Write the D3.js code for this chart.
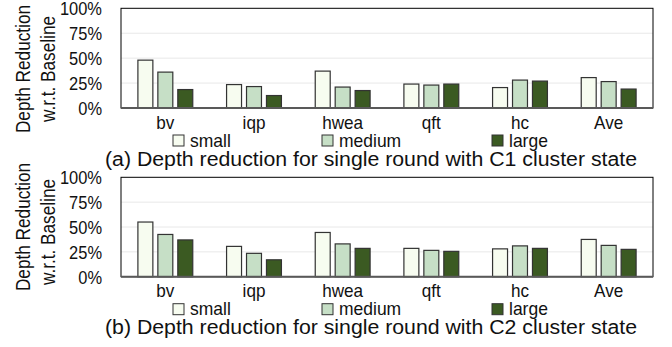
<!DOCTYPE html>
<html>
<head>
<meta charset="utf-8">
<script src="https://cdn.jsdelivr.net/npm/d3@7"></script>
<style>
  html, body { margin: 0; padding: 0; background: #fff; }
  svg { display: block; font-family: "Liberation Sans", Arial, sans-serif; }
</style>
</head>
<body>
<svg id="chart" width="672" height="347"></svg>
<script>
// Benchmarks and problem sizes
const categories = ["bv", "iqp", "hwea", "qft", "hc", "Ave"];
const sizes = ["small", "medium", "large"];
const sizeColors = ["#f7fcf0", "#c6dfc6", "#3b5a22"];
const yTicks = [0, 25, 50, 75, 100];
const yTitle = ["Depth Reduction", "w.r.t. Baseline"];

// Depth reduction (%) w.r.t. baseline, C1 cluster state
const c1Small  = [48, 23.5, 37, 24, 20.5, 30.5];
const c1Medium = [36, 21.5, 21, 23, 28, 26.5];
const c1Large  = [18.5, 12.5, 17.5, 24, 27, 19];

// Depth reduction (%) w.r.t. baseline, C2 cluster state
const c2Small  = [55, 30.5, 44.5, 28.5, 28, 37.5];
const c2Medium = [42.5, 23.5, 33, 26.5, 31, 31.5];
const c2Large  = [37, 17, 28.5, 25.5, 28.5, 27.5];

const captions = [
  "(a) Depth reduction for single round with C1 cluster state",
  "(b) Depth reduction for single round with C2 cluster state"
];

const panels = [
  { top: 8.3, bottom: 108, titleY: [69, 69], series: [c1Small, c1Medium, c1Large], caption: captions[0] },
  { top: 177.3, bottom: 276.7, titleY: [227, 232], series: [c2Small, c2Medium, c2Large], caption: captions[1] }
];

const svg = d3.select("#chart");
const left = 121, right = 653;
const ink = "#111";

// squeeze or stretch a text along its reading direction
function fitWidth(sel, factor) {
  sel.each(function () {
    const w = this.getComputedTextLength();
    d3.select(this).attr("textLength", w * factor).attr("lengthAdjust", "spacingAndGlyphs");
  });
}

const x = d3.scaleBand().domain(categories).range([left, right])
  .paddingInner(0.37).paddingOuter(0.185);
const xs = d3.scaleBand().domain(d3.range(sizes.length)).range([0, x.bandwidth()])
  .paddingInner(0.2).paddingOuter(0);

const legendX = [173, 322, 492];

panels.forEach(p => {
  const g = svg.append("g");
  const y = d3.scaleLinear().domain([0, 100]).range([p.bottom, p.top]);

  // gridlines
  g.selectAll("line.grid").data(yTicks.filter(t => t > 0 && t < 100)).join("line")
    .attr("x1", left).attr("x2", right)
    .attr("y1", d => y(d)).attr("y2", d => y(d))
    .attr("stroke", "#e8e8e8").attr("stroke-width", 1);

  // y axis labels
  const yAxis = d3.axisLeft(y).tickValues(yTicks).tickFormat(d => d + "%").tickSize(0).tickPadding(0);
  const ya = g.append("g").attr("transform", `translate(${left - 19},0)`).call(yAxis);
  ya.select(".domain").remove();
  ya.selectAll("text").attr("font-size", 19).attr("fill", ink).attr("dy", "0.34em")
    .attr("font-family", "Liberation Sans, Arial, sans-serif")
    .call(fitWidth, 0.865);

  // bars
  const groups = g.selectAll("g.cat").data(categories).join("g")
    .attr("transform", d => `translate(${x(d)},0)`);
  groups.selectAll("rect").data((d, i) => p.series.map((s, k) => ({ k, v: s[i] }))).join("rect")
    .attr("x", d => xs(d.k) + 0.5)
    .attr("width", xs.bandwidth() - 1)
    .attr("y", d => y(d.v))
    .attr("height", d => y(0) - y(d.v))
    .attr("fill", d => sizeColors[d.k])
    .attr("stroke", "#333").attr("stroke-width", 1.2);

  // frame
  g.append("rect").attr("x", left).attr("y", p.top)
    .attr("width", right - left).attr("height", p.bottom - p.top)
    .attr("fill", "none").attr("stroke", "#000").attr("stroke-width", 1);
  // baseline
  g.append("line").attr("x1", left).attr("x2", right)
    .attr("y1", y(0)).attr("y2", y(0))
    .attr("stroke", "#595959").attr("stroke-width", 2);

  // x axis labels
  const xAxis = d3.axisBottom(x).tickSize(0).tickPadding(0);
  const xa = g.append("g").attr("transform", `translate(0,${p.bottom})`).call(xAxis);
  xa.select(".domain").remove();
  xa.selectAll("text").attr("font-size", 19).attr("fill", ink).attr("dy", null)
    .attr("y", 20.5).attr("font-family", "Liberation Sans, Arial, sans-serif")
    .call(fitWidth, 0.9);

  // y title
  yTitle.forEach((t, i) => {
    g.append("text").attr("transform", `translate(${i === 0 ? 30 : 55},${p.titleY[i]}) rotate(-90)`)
      .attr("text-anchor", "middle").attr("font-size", 20).attr("fill", ink).text(t)
      .call(fitWidth, 0.86);
  });

  // legend
  const lg = g.append("g").attr("transform", `translate(0,${p.bottom + 27})`);
  sizes.forEach((s, k) => {
    lg.append("rect").attr("x", legendX[k]).attr("y", 0).attr("width", 11).attr("height", 11)
      .attr("fill", sizeColors[k]).attr("stroke", "#333").attr("stroke-width", 1);
    lg.append("text").attr("x", legendX[k] + 17).attr("y", 11.5)
      .attr("font-size", 19).attr("fill", ink).text(s)
      .call(fitWidth, 0.92);
  });

  // caption
  g.append("text").attr("x", 105).attr("y", p.bottom + 57.5)
    .attr("font-size", 20).attr("fill", ink).text(p.caption)
    .attr("textLength", 532).attr("lengthAdjust", "spacingAndGlyphs");
});
</script>
</body>
</html>
